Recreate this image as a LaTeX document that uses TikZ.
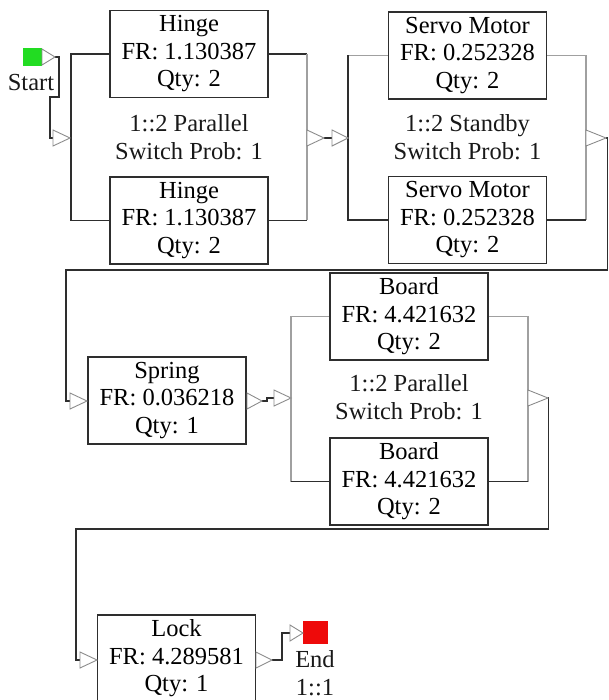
\documentclass[tikz,border=0pt]{standalone}
\usepackage{fontspec}
\setmainfont{Liberation Serif}
\definecolor{dk}{HTML}{2E2E2E}
\definecolor{lg}{HTML}{A0A0A0}
\definecolor{trig}{HTML}{8C8C8C}
\definecolor{stg}{HTML}{22DC22}
\definecolor{enr}{HTML}{EE0A0A}
\tikzset{
 blk/.style={draw=dk, line width=1.6pt, minimum width=158pt, minimum height=87pt, inner sep=0pt, align=center, font=\fontsize{24.5}{27.5}\selectfont, fill=white},
 lbl/.style={align=center, inner sep=0pt, font=\fontsize{24.5}{27.5}\selectfont, text=black!90},
 dkl/.style={draw=dk, line width=1.3pt},
 lgl/.style={draw=lg, line width=1.3pt},
 tristy/.style={draw=trig, line width=0.9pt, fill=white, line join=miter},
}
\newcommand\trin[3]{\draw[tristy] (#1,#2-8) -- (#1+#3,#2) -- (#1,#2+8) -- cycle;}
\begin{document}
\begin{tikzpicture}[x=1pt,y=-1pt]
\useasboundingbox (0,0) rectangle (608,700);
% ---------- Start
\node[fill=stg, minimum width=19pt, minimum height=18pt, inner sep=0pt] (start) at (32.5,57) {};
\node[lbl] (startlbl) at (31,83) {Start};
\coordinate (s0) at (55,57);
\coordinate (in1) at (53,138);
\draw[dkl] (s0) -- (59,57) -- (59,97) -- (50,97) -- (50,138) -- (in1);
% ---------- Block 1 (Hinge)
\node[blk] (h1) at (189,54) {Hinge\\FR: 1.130387\\Qty: 2};
\node[blk] (h2) at (189,220.5) {Hinge\\FR: 1.130387\\Qty: 2};
\node[lbl] (l1) at (189,137) {1::2 Parallel\\Switch Prob: 1};
\coordinate (b1l) at (71,138);
\coordinate (b1r) at (307,138);
\draw[dkl] (h1.west) -| (b1l) |- (h2.west);
\draw[dkl] (h1.east) -- (h1.east -| b1r);
\draw[dkl] (h2.east) -- (h2.east -| b1r);
\draw[lgl] (h1.east -| b1r) -- (h2.east -| b1r);
\coordinate (o1) at (324,138);
\coordinate (in2) at (332,138);
\draw[dkl] (o1) -- (in2);
% ---------- Block 2 (Servo)
\node[blk] (m1) at (467.5,55.5) {Servo Motor\\FR: 0.252328\\Qty: 2};
\node[blk] (m2) at (467.5,220) {Servo Motor\\FR: 0.252328\\Qty: 2};
\node[lbl] (l2) at (467.5,137) {1::2 Standby\\Switch Prob: 1};
\coordinate (b2l) at (348,138);
\coordinate (b2r) at (586,138);
\draw[lgl] (m1.west) -- (m1.west -| b2l);
\draw[dkl] (m1.west -| b2l) -- (m2.west -| b2l) -- (m2.west);
\draw[lgl] (m1.east) -| (b2r) -- (m2.east -| b2r);
\draw[dkl] (m2.east) -- (m2.east -| b2r);
\coordinate (o2) at (606,138);
\coordinate (insp) at (70,401);
\draw[dkl] (o2) -- (607.5,138) -- (607.5,270) -- (66,270) -- (66,401) -- (insp);
% ---------- Spring
\node[blk] (sp) at (167,400.5) {Spring\\FR: 0.036218\\Qty: 1};
\coordinate (osp) at (262,401);
\coordinate (in3) at (274,398);
\draw[dkl] (osp) -- (267,401) -- (267,398) -- (in3);
% ---------- Block 3 (Board)
\node[blk] (bd1) at (409,316.5) {Board\\FR: 4.421632\\Qty: 2};
\node[blk] (bd2) at (409,481.5) {Board\\FR: 4.421632\\Qty: 2};
\node[lbl] (l3) at (409,397) {1::2 Parallel\\Switch Prob: 1};
\coordinate (b3l) at (291,398);
\coordinate (b3r) at (528,398);
\draw[lgl] (bd1.west) -| (b3l) -- (bd2.west -| b3l);
\draw[dkl] (bd2.west -| b3l) -- (bd2.west);
\draw[lgl] (bd1.east) -| (b3r) -- (bd2.east -| b3r);
\draw[dkl] (bd2.east) -- (bd2.east -| b3r);
\coordinate (o3) at (548,398);
\coordinate (inlk) at (80,660);
\draw[dkl] (o3) -- (548.5,398) -- (548.5,529) -- (76,529) -- (76,660) -- (inlk);
% ---------- Lock
\node[blk] (lk) at (176.5,658.5) {Lock\\FR: 4.289581\\Qty: 1};
\coordinate (olk) at (272,660);
\coordinate (inend) at (290,633);
\draw[dkl] (olk) -- (282,660) -- (282,633) -- (inend);
% ---------- End
\node[fill=enr, minimum width=25pt, minimum height=23pt, inner sep=0pt] (end) at (315.5,632.5) {};
\node[lbl] (endlbl) at (315,673) {End\\1::1};
% ---------- triangles
\trin{42}{57}{13}
\trin{53}{138}{17}
\trin{307}{138}{17}
\trin{332}{138}{16}
\trin{586}{138}{20}
\trin{70}{401}{17}
\trin{247}{401}{15}
\trin{274}{398}{17}
\trin{528}{398}{20}
\trin{80}{660}{17}
\trin{256}{660}{16}
\trin{290}{633}{13}
\end{tikzpicture}
\end{document}
